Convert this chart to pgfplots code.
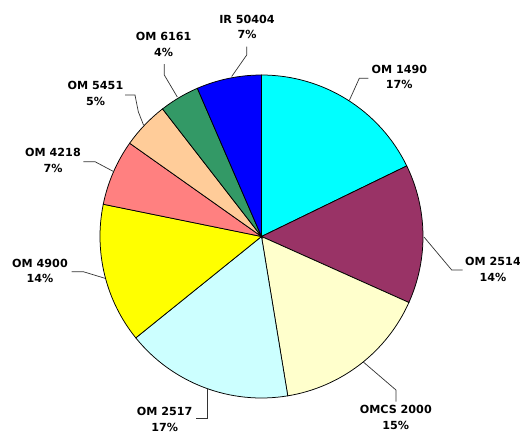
\documentclass[border=0pt]{standalone}
\usepackage{pgfplots}
\pgfplotsset{compat=1.18}
\usepackage{pgfplotstable}
\usepackage{fontspec}
\setmainfont{DejaVu Sans}

\definecolor{slice0}{RGB}{0,255,255}
\definecolor{slice1}{RGB}{153,51,102}
\definecolor{slice2}{RGB}{255,255,204}
\definecolor{slice3}{RGB}{204,255,255}
\definecolor{slice4}{RGB}{255,255,0}
\definecolor{slice5}{RGB}{255,128,128}
\definecolor{slice6}{RGB}{255,204,153}
\definecolor{slice7}{RGB}{51,153,102}
\definecolor{slice8}{RGB}{0,0,255}

% share of each slice (percent), clockwise from 12 o'clock
\pgfplotstableread{
name     pct
OM1490   17.8
OM2514   13.9
OMCS2000 15.7
OM2517   16.8
OM4900   14.0
OM4218   6.6
OM5451   4.7
OM6161   4.0
IR50404  6.5
}\piedata

\newcommand{\cx}{261.5}
\newcommand{\cy}{236.5}
\newcommand{\R}{161.5}

\begin{document}
\def\acc{90}%
\pgfplotsforeachungrouped \i in {0,...,8}{%
  \pgfplotstablegetelem{\i}{pct}\of\piedata
  \pgfmathsetmacro{\nxt}{\acc-3.6*\pgfplotsretval}%
  \expandafter\xdef\csname sa\i\endcsname{\acc}%
  \expandafter\xdef\csname ea\i\endcsname{\nxt}%
  \xdef\acc{\nxt}%
}%
\begin{tikzpicture}
\begin{axis}[
  scale only axis, width=520bp, height=434bp,
  xmin=0, xmax=520, ymin=0, ymax=434,
  y dir=reverse, hide axis, clip=false, enlargelimits=false,
]
\pgfplotsinvokeforeach{0,...,8}{%
  \edef\tmp{\noexpand\filldraw[draw=black, line width=0.75bp, fill=slice#1]
    (axis cs:\cx,\cy) -- ++(\csname sa#1\endcsname:\R bp)
    arc[start angle=\csname sa#1\endcsname, end angle=\csname ea#1\endcsname, radius=\R bp] -- cycle;}%
  \tmp
}

% leader lines
\begin{scope}[draw=black!80, line width=0.7bp]
\draw (axis cs:368.3,78.3) -- (axis cs:359.3,78.3) -- (axis cs:349.3,100.5);
\draw (axis cs:462.7,270) -- (axis cs:451.7,270) -- (axis cs:424,237);
\draw (axis cs:396,401.7) -- (axis cs:396,390) -- (axis cs:363.3,362);
\draw (axis cs:196,418.5) -- (axis cs:207.3,418.5) -- (axis cs:207.3,388.5);
\draw (axis cs:71.7,271.7) -- (axis cs:83.3,271.7) -- (axis cs:105,278.3);
\draw (axis cs:83.3,161.7) -- (axis cs:95,161.7) -- (axis cs:113.5,171.5);
\draw (axis cs:125,95) -- (axis cs:135,95) -- (axis cs:138.3,111.7) -- (axis cs:143.5,125);
\draw (axis cs:164.3,64) -- (axis cs:164.3,75) -- (axis cs:177.3,97);
\draw (axis cs:246.7,46.7) -- (axis cs:246.7,55) -- (axis cs:231.7,76.5);
\end{scope}

% labels
\begin{scope}[every node/.style={align=center, inner sep=0pt, font=\fontsize{11.2}{15.5}\selectfont\bfseries}]
\node at (axis cs:399.3,77) {OM 1490\\17\%};
\node at (axis cs:493,269.5) {OM 2514\\14\%};
\node at (axis cs:395.8,417.5) {OMCS 2000\\15\%};
\node at (axis cs:164.7,419.5) {OM 2517\\17\%};
\node at (axis cs:40,271) {OM 4900\\14\%};
\node at (axis cs:53,160.5) {OM 4218\\7\%};
\node at (axis cs:95.5,93.5) {OM 5451\\5\%};
\node at (axis cs:163.7,44.5) {OM 6161\\4\%};
\node at (axis cs:247,27) {IR 50404\\7\%};
\end{scope}
\end{axis}
\pgfresetboundingbox
\path (0,0) rectangle (520bp,434bp);
\end{tikzpicture}
\end{document}
